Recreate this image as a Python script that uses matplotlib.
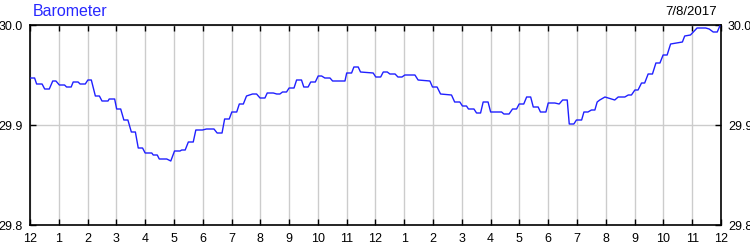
import matplotlib
matplotlib.use("Agg")
import matplotlib.pyplot as plt

plt.rcParams['font.family'] = ['Liberation Sans', 'DejaVu Sans']

# hours since midnight and barometer readings (inHg)
hours = [0.00, 0.16, 0.23, 0.42, 0.51, 0.67, 0.79, 0.90, 1.02, 1.20, 1.27, 1.43,
         1.50, 1.67, 1.74, 1.92, 2.01, 2.13, 2.27, 2.41, 2.50, 2.71, 2.75, 2.94,
         3.01, 3.15, 3.26, 3.40, 3.52, 3.66, 3.76, 3.91, 4.00, 4.23, 4.28, 4.42,
         4.49, 4.75, 4.89, 5.02, 5.21, 5.27, 5.39, 5.50, 5.67, 5.76, 5.99, 6.13,
         6.31, 6.39, 6.50, 6.67, 6.76, 6.92, 7.01, 7.18, 7.27, 7.41, 7.52, 7.73,
         7.87, 7.99, 8.16, 8.24, 8.45, 8.57, 8.68, 8.77, 8.91, 9.00, 9.17, 9.26,
         9.43, 9.51, 9.66, 9.75, 9.91, 10.01, 10.13, 10.24, 10.42, 10.51, 10.94,
         11.00, 11.17, 11.25, 11.40, 11.48, 11.92, 12.01, 12.18, 12.27, 12.41,
         12.50, 12.68, 12.78, 12.92, 13.02, 13.37, 13.48, 13.89, 13.98, 14.14,
         14.26, 14.64, 14.75, 14.93, 15.02, 15.16, 15.23, 15.42, 15.51, 15.65,
         15.74, 15.91, 16.00, 16.38, 16.46, 16.64, 16.76, 16.90, 16.99, 17.15,
         17.25, 17.39, 17.48, 17.65, 17.73, 17.92, 18.00, 18.23, 18.38, 18.50,
         18.66, 18.73, 18.89, 18.98, 19.16, 19.24, 19.38, 19.50, 19.62, 19.70,
         19.79, 19.97, 20.31, 20.43, 20.66, 20.78, 20.89, 21.01, 21.12, 21.24,
         21.35, 21.47, 21.62, 21.74, 21.88, 21.99, 22.13, 22.25, 22.66, 22.74,
         22.94, 23.17, 23.47, 23.59, 23.73, 23.87, 23.96]
pressure = [29.947, 29.947, 29.941, 29.941, 29.936, 29.936, 29.944, 29.944, 29.940, 29.940, 29.938, 29.938,
            29.943, 29.943, 29.941, 29.941, 29.945, 29.945, 29.929, 29.929, 29.924, 29.924, 29.926, 29.926,
            29.916, 29.916, 29.905, 29.905, 29.893, 29.893, 29.877, 29.877, 29.872, 29.872, 29.870, 29.870,
            29.866, 29.866, 29.864, 29.874, 29.874, 29.875, 29.875, 29.883, 29.883, 29.895, 29.895, 29.896,
            29.896, 29.896, 29.892, 29.892, 29.906, 29.906, 29.913, 29.913, 29.921, 29.921, 29.929, 29.931,
            29.931, 29.927, 29.927, 29.932, 29.932, 29.931, 29.931, 29.933, 29.933, 29.937, 29.937, 29.945,
            29.945, 29.938, 29.938, 29.943, 29.943, 29.949, 29.949, 29.947, 29.947, 29.944, 29.944,
            29.952, 29.952, 29.958, 29.958, 29.953, 29.952, 29.948, 29.948, 29.953, 29.953,
            29.951, 29.951, 29.948, 29.948, 29.950, 29.950, 29.945, 29.944, 29.938, 29.938,
            29.931, 29.930, 29.923, 29.923, 29.919, 29.919, 29.916, 29.916, 29.912, 29.912,
            29.923, 29.923, 29.913, 29.913, 29.911, 29.911, 29.916, 29.916, 29.921, 29.921,
            29.928, 29.928, 29.918, 29.918, 29.913, 29.913, 29.922, 29.922, 29.921, 29.925,
            29.925, 29.901, 29.901, 29.905, 29.905, 29.913, 29.913, 29.915, 29.915, 29.923,
            29.925, 29.928, 29.925, 29.928, 29.928, 29.930, 29.930, 29.935, 29.935, 29.942,
            29.942, 29.951, 29.951, 29.962, 29.962, 29.970, 29.970, 29.981, 29.983, 29.989,
            29.990, 29.997, 29.997, 29.996, 29.993, 29.993, 29.999]

tick_hours = list(range(25))
tick_labels = ['12', '1', '2', '3', '4', '5', '6', '7', '8', '9', '10', '11',
               '12', '1', '2', '3', '4', '5', '6', '7', '8', '9', '10', '11', '12']
y_ticks = [29.8, 29.9, 30.0]

fig = plt.figure(figsize=(7.5, 2.5), dpi=100)
ax = fig.add_axes([0.04, 0.1, 0.9213, 0.8])

ax.plot(hours, pressure, color='#2020ff', lw=1.0, zorder=3)

ax.set_xlim(0, 24)
ax.set_ylim(29.8, 30.0)
ax.set_xticks(tick_hours)
ax.set_xticklabels(tick_labels)
ax.set_yticks(y_ticks)
ax.set_yticklabels(['%.1f' % v for v in y_ticks])

ax.grid(True, color='#cccccc', lw=1.0, zorder=0)

ax.tick_params(direction='in', length=4, width=1, labelsize=9, pad=6,
               top=True, right=True, labelright=True, colors='black')
ax.tick_params(axis='y', pad=5)
for s in ax.spines.values():
    s.set_linewidth(1.2)

fig.text(0.044, 0.952, 'Barometer', color='#2828ff', fontsize=11.5,
         ha='left', va='center')
fig.text(0.956, 0.952, '7/8/2017', color='black', fontsize=9.5,
         ha='right', va='center')

fig.savefig('out.png', dpi=100)
